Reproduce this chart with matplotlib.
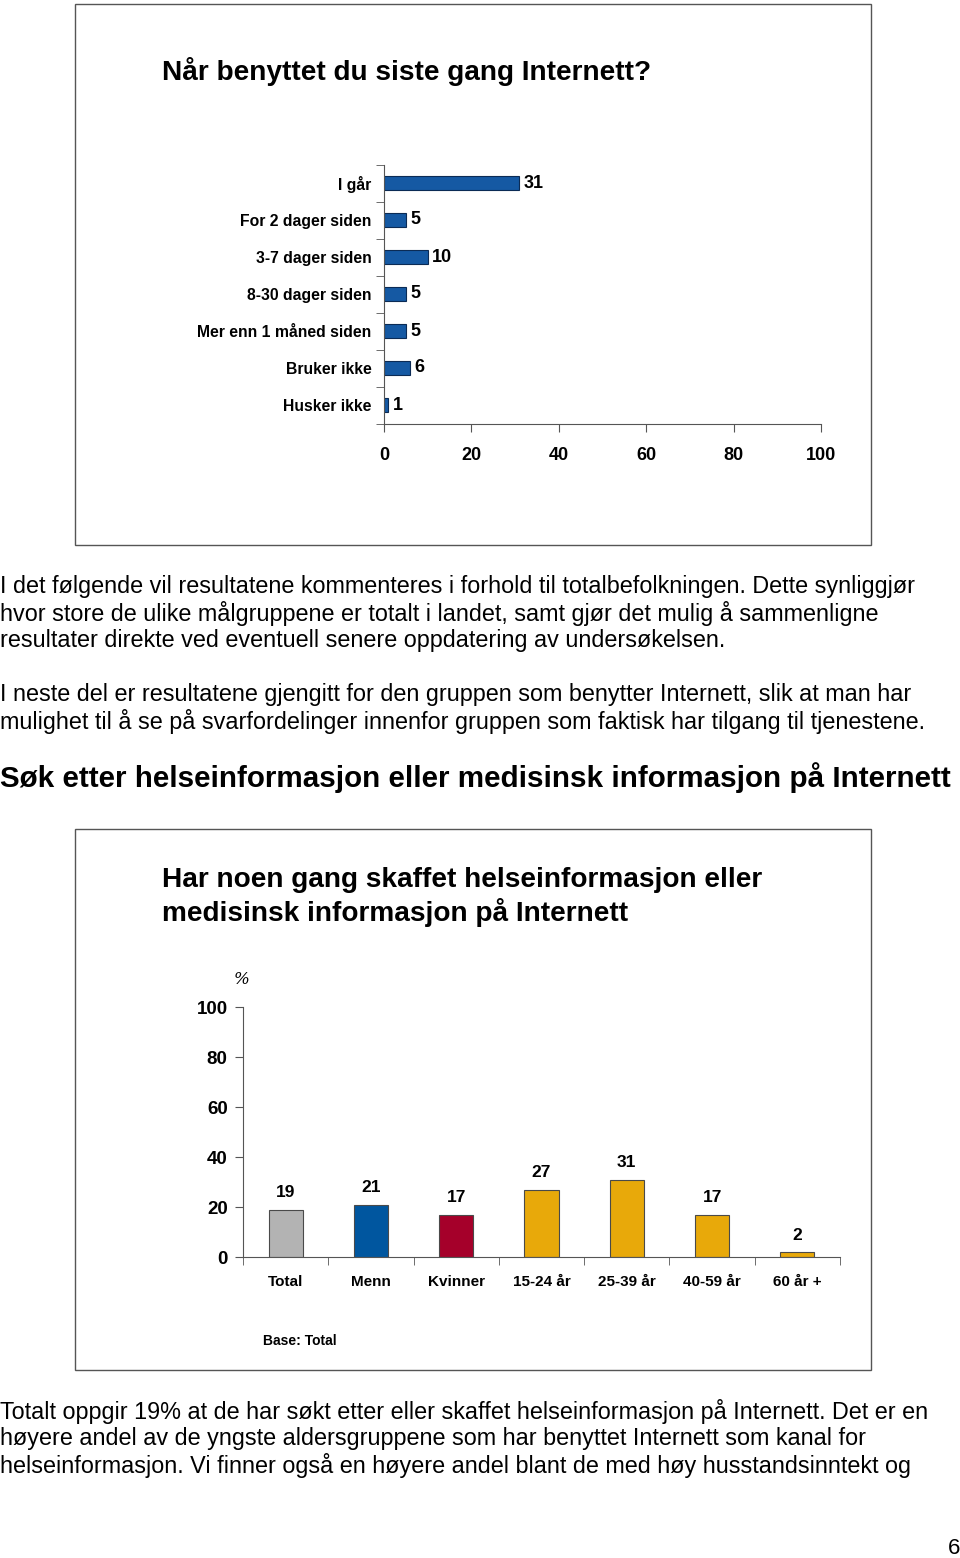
import matplotlib
matplotlib.use("Agg")
import matplotlib.pyplot as plt
from matplotlib.patches import Rectangle
import numpy as np

plt.rcParams['font.family'] = ['Liberation Sans', 'DejaVu Sans']

# data, chart 1
last_use_labels = ['I går', 'For 2 dager siden', '3-7 dager siden', '8-30 dager siden',
                   'Mer enn 1 måned siden', 'Bruker ikke', 'Husker ikke']
last_use_values = [31, 5, 10, 5, 5, 6, 1]

# data, chart 2
group_labels = ['Total', 'Menn', 'Kvinner', '15-24 år', '25-39 år', '40-59 år', '60 år +']
group_values = [19, 21, 17, 27, 31, 17, 2]
group_colors = ['#b3b3b3', '#00569f', '#a5002a', '#e8a90a', '#e8a90a', '#e8a90a', '#e8a90a']

W, H = 960, 1558

def fx(x):
    return x / W

def fy(y):
    return 1 - y / H

fig = plt.figure(figsize=(W / 100, H / 100), dpi=100)

# frames round the two charts
for top, bot in [(4, 545), (829, 1370)]:
    fig.patches.append(Rectangle((fx(75), fy(bot)), fx(871) - fx(75), fy(top) - fy(bot),
                                 transform=fig.transFigure, fill=False, edgecolor='#555555', lw=1))

title_size = 20.2
body = 16.8

# chart 1
fig.text(fx(162), fy(71), 'Når benyttet du siste gang Internett?', fontsize=title_size,
         fontweight='bold', va='center', ha='left')

ax1 = fig.add_axes([fx(384), fy(423.5), fx(821) - fx(384), (423.5 - 164.5) / H])
y = np.arange(len(last_use_values))
ax1.barh(y, last_use_values, height=0.4, color='#1559a3', edgecolor='#0b2b55', lw=0.8)
ax1.set_xlim(0, 100)
ax1.set_ylim(len(y) - 0.5, -0.5)
ax1.set_yticks(y)
ax1.set_yticklabels(last_use_labels, fontsize=11.3, fontweight='bold')
ax1.set_yticks(np.arange(-0.5, len(y), 1), minor=True)
ax1.tick_params(axis='y', which='major', length=0, pad=9)
ax1.tick_params(axis='y', which='minor', length=6, direction='out', color='#555555')
ax1.set_xticks([0, 20, 40, 60, 80, 100])
ax1.tick_params(axis='x', length=6, direction='out', color='#555555', labelsize=13, pad=11)
for lab in ax1.get_xticklabels():
    lab.set_fontweight('bold')
for s in ['top', 'right']:
    ax1.spines[s].set_visible(False)
for s in ['left', 'bottom']:
    ax1.spines[s].set_color('#555555')
for yi, v in zip(y, last_use_values):
    ax1.annotate(str(v), (v, yi), xytext=(3, 0), textcoords='offset points',
                 va='center', ha='left', fontsize=13, fontweight='bold')

# running text
fig.text(0, fy(587), 'I det følgende vil resultatene kommenteres i forhold til totalbefolkningen. Dette synliggjør',
         fontsize=body, va='center')
fig.text(0, fy(614), 'hvor store de ulike målgruppene er totalt i landet, samt gjør det mulig å sammenligne',
         fontsize=body, va='center')
fig.text(0, fy(641), 'resultater direkte ved eventuell senere oppdatering av undersøkelsen.',
         fontsize=body, va='center')
fig.text(0, fy(695), 'I neste del er resultatene gjengitt for den gruppen som benytter Internett, slik at man har',
         fontsize=body, va='center')
fig.text(0, fy(722), 'mulighet til å se på svarfordelinger innenfor gruppen som faktisk har tilgang til tjenestene.',
         fontsize=body, va='center')
fig.text(0, fy(778), 'Søk etter helseinformasjon eller medisinsk informasjon på Internett',
         fontsize=21.3, fontweight='bold', va='center')

# chart 2
fig.text(fx(162), fy(880), 'Har noen gang skaffet helseinformasjon eller', fontsize=title_size,
         fontweight='bold', va='center')
fig.text(fx(162), fy(913), 'medisinsk informasjon på Internett', fontsize=title_size,
         fontweight='bold', va='center')
fig.text(fx(234), fy(980), '%', fontsize=12, family='DejaVu Serif', style='italic', va='center')

ax2 = fig.add_axes([fx(243), fy(1257), fx(840) - fx(243), (1257 - 1007) / H])
x = np.arange(len(group_values))
ax2.bar(x, group_values, width=0.4, color=group_colors, edgecolor='#4a4a4a', lw=0.8)
ax2.set_ylim(0, 100)
ax2.set_xlim(-0.5, len(x) - 0.5)
ax2.set_yticks([0, 20, 40, 60, 80, 100])
ax2.tick_params(axis='y', length=6, direction='out', color='#555555', labelsize=13.5, pad=5)
for lab in ax2.get_yticklabels():
    lab.set_fontweight('bold')
ax2.set_xticks(x)
ax2.set_xticklabels(group_labels, fontsize=11, fontweight='bold')
ax2.set_xticks(np.arange(-0.5, len(x), 1), minor=True)
ax2.tick_params(axis='x', which='major', length=0, pad=13)
ax2.tick_params(axis='x', which='minor', length=6, direction='out', color='#555555')
for s in ['top', 'right']:
    ax2.spines[s].set_visible(False)
for s in ['left', 'bottom']:
    ax2.spines[s].set_color('#555555')
for xi, v in zip(x, group_values):
    ax2.annotate(str(v), (xi, v), xytext=(0, 12), textcoords='offset points',
                 ha='center', va='center', fontsize=12.5, fontweight='bold')

fig.text(fx(263), fy(1341), 'Base: Total', fontsize=10, fontweight='bold', va='center')

fig.text(0, fy(1412), 'Totalt oppgir 19% at de har søkt etter eller skaffet helseinformasjon på Internett. Det er en',
         fontsize=body, va='center')
fig.text(0, fy(1439), 'høyere andel av de yngste aldersgruppene som har benyttet Internett som kanal for',
         fontsize=body, va='center')
fig.text(0, fy(1466), 'helseinformasjon. Vi finner også en høyere andel blant de med høy husstandsinntekt og',
         fontsize=body, va='center')
fig.text(fx(960), fy(1548), '6', fontsize=16, ha='right', va='center')

fig.savefig('out.png', dpi=100)
